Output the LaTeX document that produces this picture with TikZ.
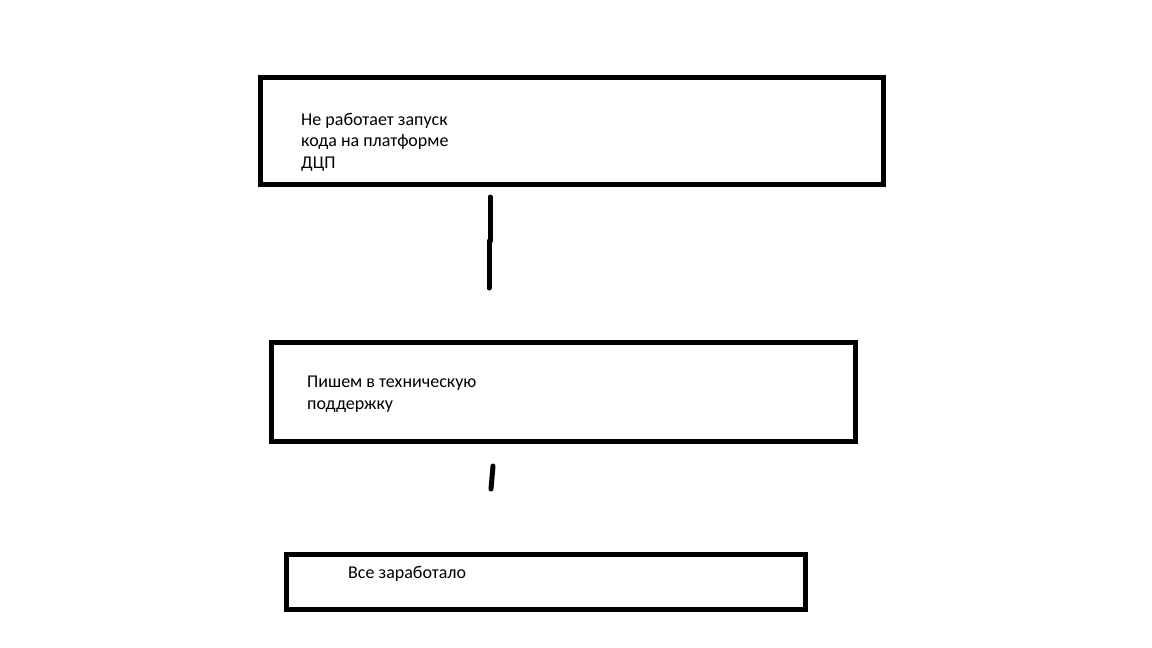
\documentclass[tikz,border=0pt]{standalone}
\usepackage{fontspec}
\setmainfont{Carlito}
\usepackage{tikz}
\tikzset{
    flowbox/.style={draw=black, line width=5pt, inner sep=0pt, fill=white},
    boxlabel/.style={anchor=north west, inner sep=0pt, align=left, font=\fontsize{18}{21.5}\selectfont},
    stroke/.style={line width=5pt, line cap=round}
}

\begin{document}
\begin{tikzpicture}[x=1pt, y=-1pt]
        \useasboundingbox (0,0) rectangle (1152,648);
        % Problem
        \node[flowbox, minimum width=623pt, minimum height=107pt] (problem) at (572,131) {};
        \node[boxlabel] (problemtext) at (301,113) {Не работает запуск\\кода на платформе\\ДЦП};
        % Support
        \node[flowbox, minimum width=584pt, minimum height=99pt] (support) at (563.5,392) {};
        \node[boxlabel] (supporttext) at (307,376) {Пишем в техническую\\поддержку};
        % Result
        \node[flowbox, minimum width=519pt, minimum height=55pt] (result) at (546,582) {};
        \node[boxlabel] (resulttext) at (348,566) {Все заработало};
        % connectors
        \coordinate (a1) at (490,197);
        \coordinate (a2) at (490,241);
        \coordinate (a3) at (489,241);
        \coordinate (a4) at (489,288);
        \draw[stroke] (a1) -- (a2);
        \draw[stroke] (a3) -- (a4);
        \coordinate (b1) at (493,466);
        \coordinate (b2) at (491,489);
        \draw[stroke] (b1) -- (b2);
    \end{tikzpicture}
\end{document}
